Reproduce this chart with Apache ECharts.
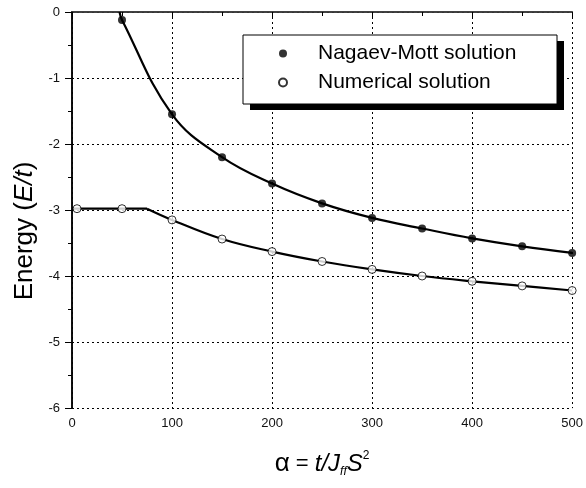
<!DOCTYPE html>
<html>
<head>
<meta charset="utf-8">
<script src="https://cdn.jsdelivr.net/npm/echarts@6/dist/echarts.min.js"></script>
<style>
html,body{margin:0;padding:0;background:#fff;}
#chart{width:586px;height:488px;}
</style>
</head>
<body>
<div id="chart"></div>
<script>
// Marker data
var xNagaev = [50, 100, 150, 200, 250, 300, 350, 400, 450, 500];
var yNagaev = [-0.12, -1.55, -2.2, -2.6, -2.9, -3.12, -3.28, -3.43, -3.55, -3.65];
var xNumerical = [5, 50, 100, 150, 200, 250, 300, 350, 400, 450, 500];
var yNumerical = [-2.98, -2.98, -3.15, -3.44, -3.63, -3.78, -3.9, -4.0, -4.08, -4.15, -4.22];
// Curves
var xNagaevCurve = [47.5, 50, 100, 150, 200, 250, 300, 350, 400, 450, 500];
var yNagaevCurve = [0, -0.12, -1.55, -2.2, -2.6, -2.9, -3.12, -3.28, -3.43, -3.55, -3.65];
var xNumFlat = [0, 75];
var yNumFlat = [-2.98, -2.98];
var xNumCurve = [75, 100, 150, 200, 250, 300, 350, 400, 450, 500];
var yNumCurve = [-2.98, -3.15, -3.44, -3.63, -3.78, -3.9, -4.0, -4.08, -4.15, -4.22];
var xTicks = [0, 100, 200, 300, 400, 500];
var yTicks = [0, -1, -2, -3, -4, -5, -6];
var legendNames = ['Nagaev-Mott solution', 'Numerical solution'];

function pairs(xs, ys) { return xs.map(function (x, i) { return [x, ys[i]]; }); }

var chart = echarts.init(document.getElementById('chart'), null, {renderer: 'canvas'});
var font = 'Arial, "Liberation Sans", sans-serif';
var curveLine = {color: '#000', width: 2.2};
var option = {
  animation: false,
  backgroundColor: '#fff',
  grid: {left: 72, right: 9, top: 12, bottom: 80},
  graphic: [
    {type: 'rect', z: 50, shape: {x: 250, y: 41, width: 314, height: 69}, style: {fill: '#000'}},
    {type: 'rect', z: 51, shape: {x: 243, y: 35, width: 314, height: 69}, style: {fill: '#fff', stroke: '#000', lineWidth: 1}}
  ],
  legend: {
    data: legendNames,
    orient: 'vertical',
    left: 278, top: 43,
    padding: 0,
    itemGap: 8,
    itemWidth: 8, itemHeight: 8,
    z: 60,
    textStyle: {fontFamily: font, fontSize: 21, color: '#000', lineHeight: 20, padding: [0, 0, 0, 26]}
  },
  xAxis: [{
    type: 'value', min: 0, max: 500, interval: 100,
    axisLine: {show: true, lineStyle: {color: '#000', width: 1.5}},
    axisTick: {show: true, inside: false, length: 6, lineStyle: {color: '#000'}},
    minorTick: {show: true, splitNumber: 2, length: 4, lineStyle: {color: '#000'}},
    axisLabel: {fontFamily: font, fontSize: 13, color: '#111', margin: 9,
      formatter: function (v) { return xTicks.indexOf(v) >= 0 ? String(v) : ''; }},
    splitLine: {show: true, lineStyle: {color: '#000', type: [2, 3], width: 1}},
    name: '{a|α}{e| = }{i|t/J}{sub|ff}{i|S}{sup|2}',
    nameLocation: 'middle', nameGap: 42,
    nameTextStyle: {
      rich: {
        a: {fontFamily: font, fontSize: 26, color: '#000'},
        e: {fontFamily: font, fontSize: 22, color: '#000'},
        i: {fontFamily: font, fontSize: 24, fontStyle: 'italic', color: '#000'},
        sub: {fontFamily: font, fontSize: 12, fontStyle: 'italic', color: '#000', padding: [16, 0, 0, 0]},
        sup: {fontFamily: font, fontSize: 12, color: '#000', padding: [0, 0, 16, 0]}
      }
    }
  }, {
    type: 'value', min: 0, max: 500, interval: 100, position: 'top',
    axisLine: {show: true, lineStyle: {color: '#444', width: 1.5}},
    axisTick: {show: true, inside: true, length: 4, lineStyle: {color: '#000'}},
    axisLabel: {show: false}, splitLine: {show: false}
  }],
  yAxis: [{
    type: 'value', min: -6, max: 0, interval: 1,
    axisLine: {show: true, lineStyle: {color: '#000', width: 1.5}},
    axisTick: {show: true, inside: false, length: 7, lineStyle: {color: '#000'}},
    minorTick: {show: true, splitNumber: 2, length: 4, lineStyle: {color: '#000'}},
    axisLabel: {fontFamily: font, fontSize: 13, color: '#111', margin: 12,
      formatter: function (v) { return yTicks.indexOf(v) >= 0 ? String(v) : ''; }},
    splitLine: {show: true, lineStyle: {color: '#000', type: [2, 3], width: 1}},
    name: '{n|Energy (}{i|E/t}{n|)}',
    nameLocation: 'middle', nameGap: 34, nameRotate: 90,
    nameTextStyle: {
      padding: [0, 42, 0, 0],
      rich: {
        n: {fontFamily: font, fontSize: 26, color: '#000'},
        i: {fontFamily: font, fontSize: 26, fontStyle: 'italic', color: '#000'}
      }
    }
  }, {
    type: 'value', min: -6, max: 0, interval: 1, position: 'right',
    axisLine: {show: true, lineStyle: {color: '#000', width: 1.5}},
    axisTick: {show: false}, axisLabel: {show: false}, splitLine: {show: false}
  }],
  series: [
    {
      type: 'line', name: 'NM curve', data: pairs(xNagaevCurve, yNagaevCurve),
      smooth: 0.4, showSymbol: false, symbol: 'none',
      lineStyle: curveLine, z: 2, clip: true
    },
    {
      type: 'line', name: 'Num flat', data: pairs(xNumFlat, yNumFlat),
      smooth: false, showSymbol: false, symbol: 'none',
      lineStyle: curveLine, z: 2, clip: true
    },
    {
      type: 'line', name: 'Num curve', data: pairs(xNumCurve, yNumCurve),
      smooth: 0.4, showSymbol: false, symbol: 'none',
      lineStyle: curveLine, z: 2, clip: true
    },
    {
      type: 'scatter', name: legendNames[0], data: pairs(xNagaev, yNagaev),
      symbol: 'circle', symbolSize: 8,
      itemStyle: {color: '#000', borderColor: '#000', borderWidth: 0}, z: 3
    },
    {
      type: 'scatter', name: legendNames[1], data: pairs(xNumerical, yNumerical),
      symbol: 'circle', symbolSize: 8,
      itemStyle: {color: '#fff', borderColor: '#000', borderWidth: 1}, z: 3
    }
  ]
};
chart.setOption(option);
</script>
</body>
</html>
